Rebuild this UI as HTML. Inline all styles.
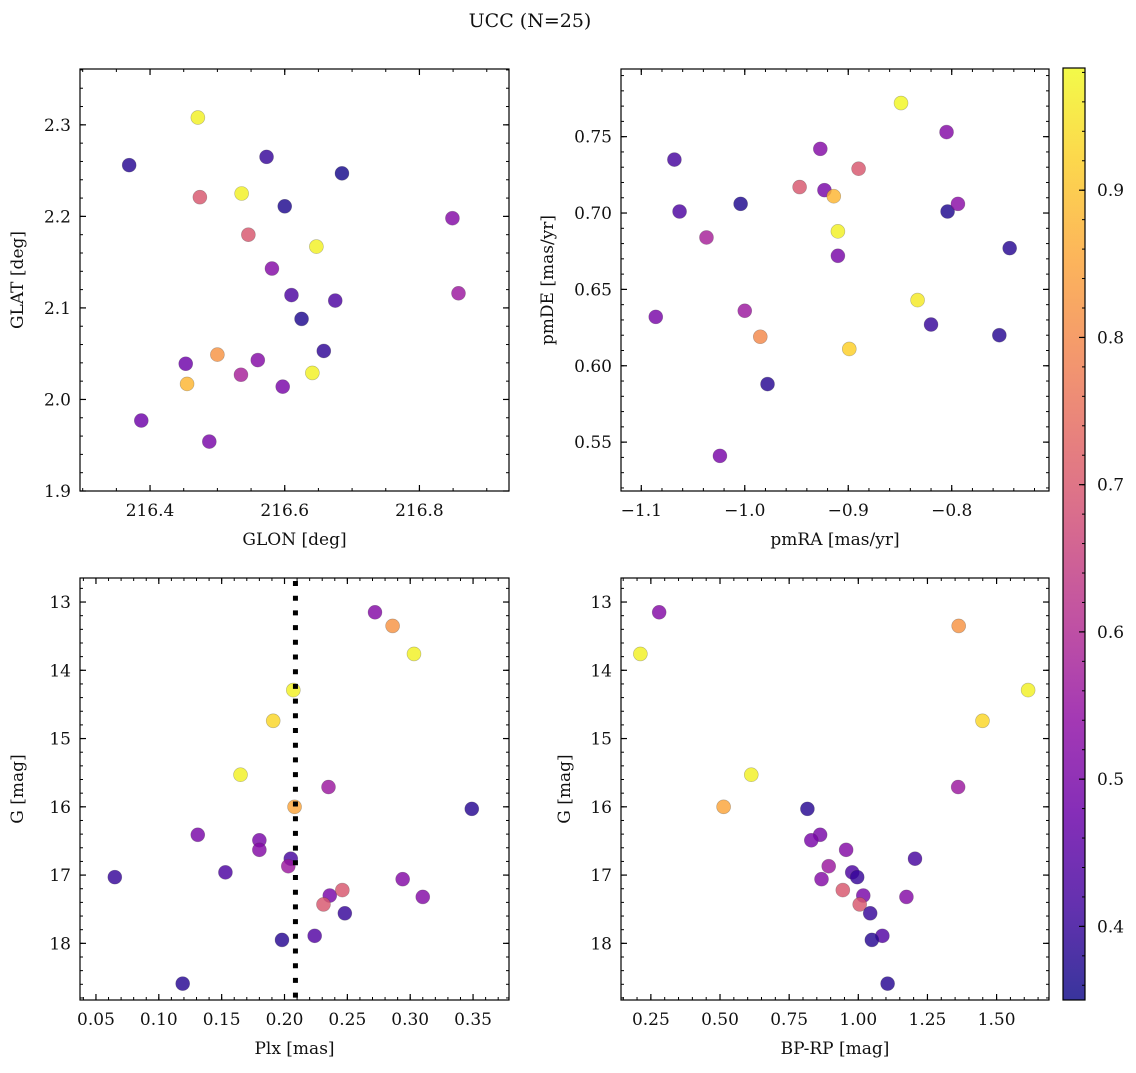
<!DOCTYPE html>
<html><head><meta charset="utf-8"><style>
html,body{margin:0;padding:0;background:#fff;}
svg text{font-family:"DejaVu Serif","Liberation Serif",serif;fill:#111;}
</style></head><body>
<svg id="fig" width="1136" height="1068" viewBox="0 0 1136 1068" xmlns="http://www.w3.org/2000/svg">
<defs>
<linearGradient id="plasma" x1="0" y1="1" x2="0" y2="0">
</linearGradient>
</defs>
<text x="530" y="27" font-size="19" text-anchor="middle">UCC (N=25)</text>
</svg>
<script>
// ---- data: top-left (GLON vs GLAT)
const glon = [216.471,216.369,216.573,216.685,216.474,216.536,216.600,216.546,216.647,216.849,216.581,216.610,216.675,216.858,216.625,216.500,216.453,216.560,216.658,216.535,216.455,216.641,216.597,216.387,216.488];
const glat = [2.308,2.256,2.265,2.247,2.221,2.225,2.211,2.180,2.167,2.198,2.143,2.114,2.108,2.116,2.088,2.049,2.039,2.043,2.053,2.027,2.017,2.029,2.014,1.977,1.954];
const probA = [0.97,0.38,0.40,0.36,0.70,0.97,0.37,0.70,0.97,0.52,0.52,0.43,0.43,0.56,0.37,0.82,0.48,0.52,0.39,0.58,0.88,0.97,0.50,0.48,0.50];
// ---- data: top-right (pmRA vs pmDE)
const pmra = [-0.849,-0.805,-1.068,-0.927,-0.890,-0.947,-0.923,-0.914,-1.004,-1.063,-0.804,-0.794,-0.910,-1.037,-0.910,-0.744,-0.833,-1.086,-0.820,-1.000,-0.985,-0.754,-0.899,-0.978,-1.024];
const pmde = [0.772,0.753,0.735,0.742,0.729,0.717,0.715,0.711,0.706,0.701,0.701,0.706,0.688,0.684,0.672,0.677,0.643,0.632,0.627,0.636,0.619,0.620,0.611,0.588,0.541];
const probB = [0.98,0.52,0.42,0.52,0.70,0.70,0.50,0.88,0.37,0.43,0.37,0.53,0.97,0.58,0.50,0.38,0.96,0.50,0.40,0.56,0.80,0.38,0.92,0.38,0.50];
// ---- data: bottom-left (Plx vs G)
const plx = [0.272,0.286,0.303,0.207,0.191,0.165,0.235,0.208,0.349,0.131,0.180,0.180,0.205,0.203,0.065,0.153,0.294,0.236,0.246,0.231,0.310,0.248,0.224,0.198,0.119];
const gmagC = [13.15,13.35,13.76,14.29,14.74,15.53,15.71,16.00,16.03,16.41,16.49,16.63,16.76,16.87,17.03,16.96,17.06,17.30,17.22,17.43,17.32,17.56,17.89,17.95,18.59];
const probC = [0.52,0.82,0.97,0.97,0.93,0.97,0.56,0.85,0.38,0.50,0.50,0.52,0.42,0.56,0.40,0.43,0.52,0.50,0.70,0.70,0.52,0.40,0.44,0.38,0.38];
const plxMedian = [0.2087];
// ---- data: bottom-right (BP-RP vs G)
const bprp = [0.280,0.212,1.363,1.614,1.449,0.613,0.513,1.361,0.816,0.862,0.830,0.956,1.205,0.893,0.978,0.996,0.867,0.944,1.018,1.174,1.005,1.043,1.087,1.049,1.106];
const gmagD = [13.15,13.76,13.35,14.29,14.74,15.53,16.00,15.71,16.03,16.41,16.49,16.63,16.76,16.87,16.96,17.03,17.06,17.22,17.30,17.32,17.43,17.56,17.89,17.95,18.59];
const probD = [0.52,0.97,0.82,0.97,0.93,0.97,0.85,0.56,0.38,0.50,0.50,0.52,0.42,0.56,0.43,0.40,0.52,0.70,0.50,0.52,0.70,0.40,0.44,0.38,0.38];
// ---- tick labels
const ticksA_x = [216.4,216.6,216.8], ticksA_y = [1.9,2.0,2.1,2.2,2.3];
const ticksB_x = [-1.1,-1.0,-0.9,-0.8], ticksB_y = [0.55,0.60,0.65,0.70,0.75];
const ticksC_x = [0.05,0.10,0.15,0.20,0.25,0.30,0.35], ticksG = [13,14,15,16,17,18];
const ticksD_x = [0.25,0.50,0.75,1.00,1.25,1.50];
const ticksCbar = [0.4,0.5,0.6,0.7,0.8,0.9];
const cmin = 0.35, cmax = 0.983;

const NS = "http://www.w3.org/2000/svg";
const svg = document.getElementById('fig');
function mk(tag, attrs, parent){const e=document.createElementNS(NS,tag);for(const k in attrs)e.setAttribute(k,attrs[k]);(parent||svg).appendChild(e);return e;}

const plasma = [[13,8,135],[65,4,157],[106,0,168],[143,13,164],[177,42,144],[204,71,120],[225,100,98],[242,132,75],[252,166,54],[252,206,37],[240,249,33]];
function cmap(v){let t=(v-cmin)/(cmax-cmin);t=Math.max(0,Math.min(1,t))*10;const i=Math.min(9,Math.floor(t)),f=t-i;const a=plasma[i],b=plasma[i+1];return 'rgb('+a.map((x,k)=>Math.round(x+(b[k]-x)*f)).join(',')+')';}
const grad = document.getElementById('plasma');
for(let k=0;k<=20;k++){const v=cmin+(cmax-cmin)*k/20;const s=document.createElementNS(NS,'stop');s.setAttribute('offset',(k/20));s.setAttribute('stop-color',cmap(v));grad.appendChild(s);}

function fmt(v,d){const s=Math.abs(v).toFixed(d);return (v<0?'\u2212':'')+s;}
const FS = 17;

function panel(name, box, xr, yr, xinv, yinv, xt, yt, xminor, yminor, xd, yd, xlabel, ylabel, xs, ys, cs){
  const g = mk('g',{});
  
  
  const X = v => box.x + (v-xr[0])/(xr[1]-xr[0])*box.w;
  const Y = yinv ? (v => box.y + (v-yr[0])/(yr[1]-yr[0])*box.h) : (v => box.y + box.h - (v-yr[0])/(yr[1]-yr[0])*box.h);
  const pg = mk('g',{},g);
  for(let i=0;i<xs.length;i++){
    const c = mk('circle',{cx:X(xs[i]),cy:Y(ys[i]),r:7,fill:cmap(cs[i]),'fill-opacity':0.82,stroke:'rgba(60,60,60,0.35)','stroke-width':0.6},pg);
    
    
  }
  const fr = mk('rect',{x:box.x,y:box.y,width:box.w,height:box.h,fill:'none',stroke:'#000','stroke-width':1.2},g);
  
  
  const lo = Math.ceil(xr[0]/xminor-1e-6), hi=Math.floor(xr[1]/xminor+1e-6);
  for(let k=lo;k<=hi;k++){const px=X(k*xminor);mk('line',{x1:px,x2:px,y1:box.y+box.h,y2:box.y+box.h-3,stroke:'#000','stroke-width':1},g);mk('line',{x1:px,x2:px,y1:box.y,y2:box.y+3,stroke:'#000','stroke-width':1},g);}
  const lo2 = Math.ceil(yr[0]/yminor-1e-6), hi2=Math.floor(yr[1]/yminor+1e-6);
  for(let k=lo2;k<=hi2;k++){const py=Y(k*yminor);mk('line',{x1:box.x,x2:box.x+3,y1:py,y2:py,stroke:'#000','stroke-width':1},g);mk('line',{x1:box.x+box.w,x2:box.x+box.w-3,y1:py,y2:py,stroke:'#000','stroke-width':1},g);}
  xt.forEach(v=>{const px=X(v);mk('line',{x1:px,x2:px,y1:box.y+box.h,y2:box.y+box.h-6,stroke:'#000','stroke-width':1.2},g);mk('line',{x1:px,x2:px,y1:box.y,y2:box.y+6,stroke:'#000','stroke-width':1.2},g);
    const t=mk('text',{x:px,y:box.y+box.h+25,'font-size':FS,'text-anchor':'middle'},g);t.textContent=fmt(v,xd);
    });
  yt.forEach(v=>{const py=Y(v);mk('line',{x1:box.x,x2:box.x+6,y1:py,y2:py,stroke:'#000','stroke-width':1.2},g);mk('line',{x1:box.x+box.w,x2:box.x+box.w-6,y1:py,y2:py,stroke:'#000','stroke-width':1.2},g);
    const t=mk('text',{x:box.x-9,y:py+6,'font-size':FS,'text-anchor':'end'},g);t.textContent=fmt(v,yd);
    });
  const xl=mk('text',{x:box.x+box.w/2,y:box.y+box.h+54,'font-size':FS,'text-anchor':'middle'},g);xl.textContent=xlabel;
  
  const yx = box.ylx, yy = box.y+box.h/2;
  const yl=mk('text',{x:yx,y:yy,'font-size':FS,'text-anchor':'middle',transform:'rotate(-90 '+yx+' '+yy+')'},g);yl.textContent=ylabel;
  
  return {X,Y,g};
}

panel('glon-glat-panel',{x:80,y:69,w:429,h:422,ylx:23},[216.296,216.933],[1.9,2.361],false,false,ticksA_x,ticksA_y,0.05,0.02,1,1,'GLON [deg]','GLAT [deg]',glon,glat,probA);
panel('pm-panel',{x:621,y:69,w:428,h:422,ylx:553},[-1.1196,-0.706],[0.518,0.7943],false,false,ticksB_x,ticksB_y,0.02,0.01,1,2,'pmRA [mas/yr]','pmDE [mas/yr]',pmra,pmde,probB);
const pc = panel('plx-g-panel',{x:80,y:578,w:429,h:422,ylx:23},[0.0373,0.3786],[12.648,18.83],false,true,ticksC_x,ticksG,0.01,0.2,2,0,'Plx [mas]','G [mag]',plx,gmagC,probC);
panel('cmd-panel',{x:621,y:578,w:428,h:422,ylx:570},[0.142,1.6895],[12.648,18.83],false,true,ticksD_x,ticksG,0.05,0.2,2,0,'BP-RP [mag]','G [mag]',bprp,gmagD,probD);
const ml = mk('line',{x1:pc.X(plxMedian[0]),x2:pc.X(plxMedian[0]),y1:581,y2:1000,stroke:'#000','stroke-width':5,'stroke-dasharray':'5 9.7'},pc.g);



const cb = {x:1063,y:68,w:22,h:932};
const cg = mk('g',{});


mk('rect',{x:cb.x,y:cb.y,width:cb.w,height:cb.h,fill:'url(#plasma)','fill-opacity':0.82},cg);
mk('rect',{x:cb.x,y:cb.y,width:cb.w,height:cb.h,fill:'none',stroke:'#000','stroke-width':1.2},cg);
const CY = v => cb.y + cb.h - (v-cmin)/(cmax-cmin)*cb.h;
for(let k=Math.ceil(cmin/0.02);k<=Math.floor(cmax/0.02);k++){const py=CY(k*0.02);mk('line',{x1:cb.x+cb.w,x2:cb.x+cb.w-3,y1:py,y2:py,stroke:'#000','stroke-width':1},cg);}
ticksCbar.forEach(v=>{const py=CY(v);mk('line',{x1:cb.x+cb.w,x2:cb.x+cb.w-6,y1:py,y2:py,stroke:'#000','stroke-width':1.2},cg);
  const t=mk('text',{x:cb.x+cb.w+12,y:py+6,'font-size':FS},cg);t.textContent=v.toFixed(1);
  });
</script>
</body></html>
